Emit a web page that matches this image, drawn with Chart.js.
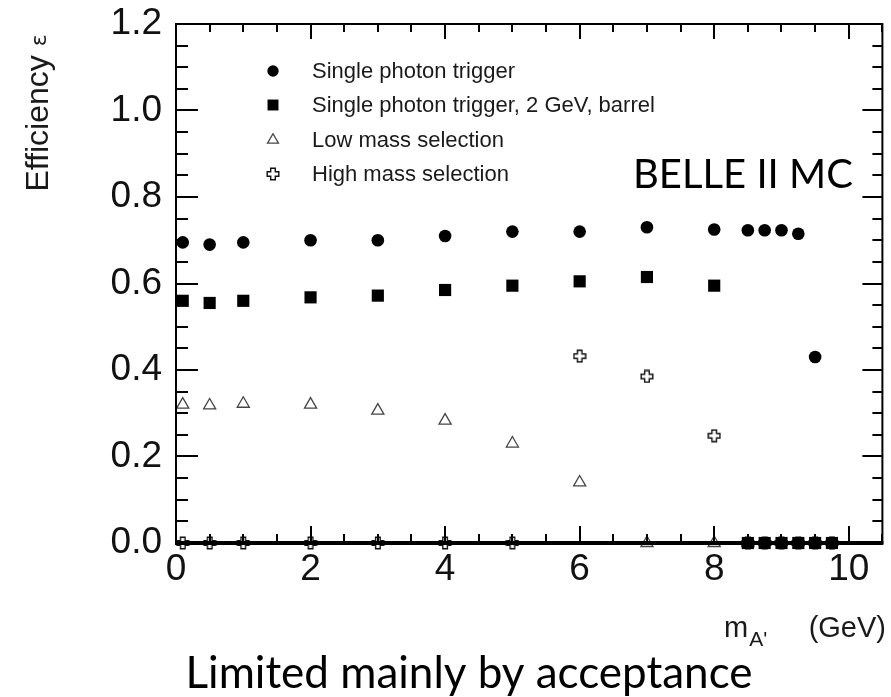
<!DOCTYPE html>
<html>
<head>
<meta charset="utf-8">
<script src="https://cdn.jsdelivr.net/npm/chart.js@4.4.1/dist/chart.umd.min.js"></script>
<style>
html,body{margin:0;background:#fff}
#wrap{width:891px;height:697px}
</style>
</head>
<body>
<div id="wrap"><canvas id="c" width="891" height="697"></canvas></div>
<script>
// DATA
const seriesNames=['Single photon trigger','Single photon trigger, 2 GeV, barrel','Low mass selection','High mass selection'];
const massTrig=[0.1,0.5,1,2,3,4,5,6,7,8,8.5,8.75,9,9.25,9.5,9.75];
const effTrig=[0.695,0.69,0.695,0.70,0.70,0.71,0.72,0.72,0.73,0.725,0.723,0.723,0.723,0.715,0.43,0];
const massBarrel=[0.1,0.5,1,2,3,4,5,6,7,8,8.5,8.75,9,9.25,9.5,9.75];
const effBarrel=[0.56,0.555,0.56,0.568,0.572,0.585,0.595,0.605,0.615,0.595,0,0,0,0,0,0];
const massLow=[0.1,0.5,1,2,3,4,5,6,7,8,8.5];
const effLow=[0.32,0.318,0.322,0.32,0.306,0.283,0.23,0.14,0,0,0];
const massHigh=[0.1,0.5,1,2,3,4,5,6,7,8,8.5,8.75,9,9.25,9.5,9.75];
const effHigh=[0,0,0,0,0,0,0,0.432,0.385,0.248,0,0,0,0,0,0];
const xTicks=[0,2,4,6,8,10];
const yTicks=[0,0.2,0.4,0.6,0.8,1.0,1.2];

const pts=(xs,ys)=>xs.map((x,i)=>({x,y:ys[i]}));

// open cross marker
function makeCross(){
  const c=document.createElement('canvas');c.width=14;c.height=14;
  const g=c.getContext('2d');
  const m=7,a=2.3,l=5.8;
  g.beginPath();
  g.moveTo(m-a,m-l);g.lineTo(m+a,m-l);g.lineTo(m+a,m-a);g.lineTo(m+l,m-a);
  g.lineTo(m+l,m+a);g.lineTo(m+a,m+a);g.lineTo(m+a,m+l);g.lineTo(m-a,m+l);
  g.lineTo(m-a,m+a);g.lineTo(m-l,m+a);g.lineTo(m-l,m-a);g.lineTo(m-a,m-a);g.closePath();
  g.fillStyle='#fff';g.fill();g.lineWidth=1.4;g.strokeStyle='#111';g.stroke();
  return c;
}
const crossImg=makeCross();

const styles=[
  {pointStyle:'circle',radius:6.3,backgroundColor:'#000',borderColor:'#000',borderWidth:0},
  {pointStyle:'rect',radius:8.6,backgroundColor:'#000',borderColor:'#000',borderWidth:0},
  {pointStyle:'triangle',radius:7,backgroundColor:'#fff',borderColor:'#444',borderWidth:1.3},
  {pointStyle:crossImg,radius:7,backgroundColor:'#fff',borderColor:'#111',borderWidth:1}
];

const framePlugin={
  id:'frame',
  afterDatasetsDraw(chart){
    const {ctx,chartArea:a,scales:{x,y}}=chart;
    ctx.save();
    ctx.strokeStyle='#000';
    // ticks
    ctx.lineWidth=2;
    ctx.beginPath();
    for(let v=0;v<=1.2001;v+=0.05){
      const py=Math.round(y.getPixelForValue(v));
      const major=Math.abs(v/0.2-Math.round(v/0.2))<0.01;
      ctx.moveTo(a.left,py);ctx.lineTo(a.left+(major?22:12),py);
      ctx.moveTo(a.right,py);ctx.lineTo(a.right-(major?20:10),py);
    }
    for(let v=0;v<=10.5001;v+=0.5){
      const px=Math.round(x.getPixelForValue(v));
      const major=Math.abs(v/2-Math.round(v/2))<0.01;
      ctx.moveTo(px,a.bottom);ctx.lineTo(px,a.bottom-(major?17:9));
      ctx.moveTo(px,a.top);ctx.lineTo(px,a.top+(major?15:8));
    }
    ctx.stroke();
    // frame
    ctx.lineWidth=2;
    ctx.strokeRect(a.left,a.top,a.right-a.left,a.bottom-a.top);
    ctx.lineWidth=4;
    ctx.beginPath();ctx.moveTo(a.left-1,a.bottom);ctx.lineTo(a.right+1,a.bottom);ctx.stroke();

    // legend
    const lx=273,ly=[71,105,140,174];
    ctx.font='22px "Liberation Sans", Arial, sans-serif';
    ctx.textBaseline='middle';ctx.textAlign='left';
    seriesNames.forEach((n,i)=>{
      const s=styles[i];
      ctx.fillStyle=s.backgroundColor;ctx.strokeStyle=s.borderColor;ctx.lineWidth=s.borderWidth;
      Chart.helpers.drawPoint(ctx,{pointStyle:s.pointStyle,radius:s.radius*0.9,rotation:0,borderWidth:s.borderWidth},lx,ly[i]);
      ctx.fillStyle='#1a1a1a';
      ctx.fillText(n,312,ly[i]+1);
    });

    // BELLE II MC
    ctx.fillStyle='#000';
    ctx.font='40px Lato, "Open Sans", sans-serif';
    ctx.textBaseline='alphabetic';
    ctx.fillText('BELLE II MC',633,188);

    // y title
    ctx.save();
    ctx.translate(48,113);ctx.rotate(-Math.PI/2);
    ctx.font='32px "Liberation Sans", Arial, sans-serif';
    const w1=ctx.measureText('Efficiency ').width;
    ctx.font='22px "DejaVu Sans", serif';
    const w2=ctx.measureText('ε').width;
    let sx=-(w1+w2)/2;
    ctx.font='32px "Liberation Sans", Arial, sans-serif';
    ctx.fillStyle='#1a1a1a';
    ctx.fillText('Efficiency ',sx,0);
    ctx.font='22px "DejaVu Sans", serif';
    ctx.fillText('ε',sx+w1,-2);
    ctx.restore();

    // x title
    ctx.fillStyle='#1a1a1a';
    ctx.font='29px "Liberation Sans", Arial, sans-serif';
    ctx.fillText('m',724,637);
    const mw=ctx.measureText('m').width;
    ctx.font='21px "Liberation Sans", Arial, sans-serif';
    ctx.fillText("A'",725+mw,646);
    ctx.font='29px "Liberation Sans", Arial, sans-serif';
    ctx.textAlign='right';
    ctx.fillText('(GeV)',886,637);

    // caption
    ctx.textAlign='center';
    ctx.fillStyle='#000';
    ctx.font='44px Lato, "Open Sans", sans-serif';
    ctx.fillText('Limited mainly by acceptance',469,688);
    ctx.restore();
  }
};

const mk=(i,xs,ys,order)=>Object.assign({label:seriesNames[i],data:pts(xs,ys),clip:false,order,
  pointRadius:styles[i].radius,pointHoverRadius:styles[i].radius},styles[i],{radius:undefined});

new Chart(document.getElementById('c').getContext('2d'),{
  type:'scatter',
  data:{datasets:[
    mk(0,massTrig,effTrig,1),
    mk(1,massBarrel,effBarrel,2),
    mk(2,massLow,effLow,3),
    mk(3,massHigh,effHigh,4)
  ]},
  options:{
    responsive:false,animation:false,
    layout:{padding:{top:24,right:4,left:0,bottom:0}},
    plugins:{legend:{display:false},tooltip:{enabled:false}},
    scales:{
      x:{type:'linear',min:0,max:10.5,
        grid:{display:false},border:{display:false},
        afterBuildTicks:s=>{s.ticks=xTicks.map(v=>({value:v}))},
        afterFit:s=>{s.height=697-543},
        ticks:{padding:-3,color:'#111',maxRotation:0,autoSkip:false,
          font:{family:'"Liberation Sans", Arial, sans-serif',size:37},
          callback:v=>String(v)}},
      y:{type:'linear',min:0,max:1.2,
        grid:{display:false},border:{display:false},
        afterBuildTicks:s=>{s.ticks=yTicks.map(v=>({value:v}))},
        afterFit:s=>{s.width=176;s.paddingTop=0;s.paddingBottom=0},
        ticks:{padding:6,color:'#111',
          font:{family:'"Liberation Sans", Arial, sans-serif',size:37},
          callback:v=>Number(v).toFixed(1)}}
    }
  },
  plugins:[framePlugin]
});
</script>
</body>
</html>
